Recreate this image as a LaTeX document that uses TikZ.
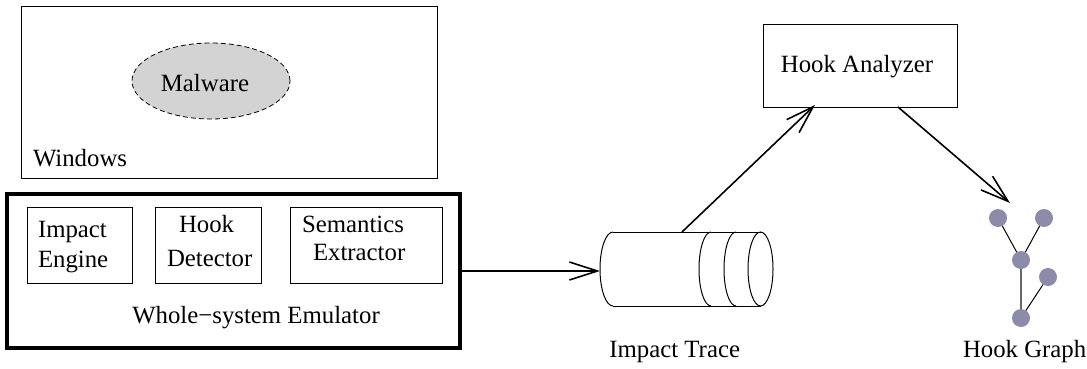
\documentclass[tikz,border=0pt]{standalone}
\usepackage{fontspec}
\setmainfont{Liberation Serif}
\usetikzlibrary{arrows.meta,shapes.geometric}
\definecolor{graphnode}{RGB}{140,140,170}
\definecolor{malfill}{RGB}{211,211,211}
\begin{document}
\begin{tikzpicture}[x=1pt,y=-1pt,
  box/.style={draw, line width=1pt, inner sep=0pt, outer sep=0pt},
  lbl/.style={font=\fontsize{24.8}{30}\selectfont, inner sep=0pt, outer sep=0pt},
  flow/.style={line width=1.6pt, -{Straight Barb[length=28pt,width=18pt,line width=1.6pt]}},
  gnode/.style={circle, fill=graphnode, minimum size=18pt, inner sep=0pt, outer sep=0pt},
  gedge/.style={line width=1pt},
  cyl/.style={line width=1pt}]
\useasboundingbox (0,0) rectangle (1087,369);

% Guest OS with the sample inside
\node[box, minimum width=416pt, minimum height=171pt] (win) at (229,92.5) {};
\node[ellipse, draw, dashed, dash pattern=on 5pt off 3pt, fill=malfill, line width=0.8pt,
      minimum width=158pt, minimum height=76pt, inner sep=0pt] (mal) at (211,81) {};
\node[lbl] (maltext) at (205,83) {Malware};
\node[lbl, anchor=base west] (wintext) at (33,166) {Windows};

% Emulator with its components
\node[draw, line width=3.4pt, inner sep=0pt, outer sep=0pt,
      minimum width=453pt, minimum height=154pt] (emu) at (233.5,271) {};
\node[box, minimum width=105pt, minimum height=76pt] (impact) at (79.5,245) {};
\node[box, minimum width=106pt, minimum height=76pt] (hookdet) at (208,245) {};
\node[box, minimum width=152pt, minimum height=76pt] (sem) at (366,245) {};
\node[lbl, anchor=base west] (t1a) at (38,237) {Impact};
\node[lbl, anchor=base west] (t1b) at (38,267) {Engine};
\node[lbl, anchor=base west] (t2a) at (179,232) {Hook};
\node[lbl, anchor=base west] (t2b) at (167,266) {Detector};
\node[lbl, anchor=base west] (t3a) at (302,232) {Semantics};
\node[lbl, anchor=base west] (t3b) at (313,260) {Extractor};
\node[lbl, anchor=base] (emutext) at (256,323) {Whole−system Emulator};

% Trace cylinder
\node[minimum width=173pt, minimum height=74pt, inner sep=0pt, outer sep=0pt] (trace) at (686.5,269) {};
\draw[cyl] (613,232) -- (761,232);
\draw[cyl] (613,306) -- (761,306);
\draw[cyl] (613,232) arc[start angle=90, end angle=270, x radius=13pt, y radius=37pt];
\draw[cyl] (711,232) arc[start angle=90, end angle=270, x radius=12pt, y radius=37pt];
\draw[cyl] (736,232) arc[start angle=90, end angle=270, x radius=12pt, y radius=37pt];
\draw[cyl] (760.5,269) ellipse[x radius=12.5pt, y radius=37pt];
\node[lbl, anchor=base east] (tracetext) at (740,357) {Impact Trace};

% Analyzer
\node[box, minimum width=194pt, minimum height=82pt] (ana) at (860,66) {};
\node[lbl, anchor=base] (anatext) at (857,73) {Hook Analyzer};

% Hook graph
\node[gnode] (g1) at (998,218) {};
\node[gnode] (g2) at (1044,218) {};
\node[gnode] (g3) at (1021,260) {};
\node[gnode] (g4) at (1048,277) {};
\node[gnode] (g5) at (1021,318) {};
\draw[gedge] (g1) -- (g3);
\draw[gedge] (g2) -- (g3);
\draw[gedge, line width=1.5pt, draw=black!60] (g3) -- (g5);
\draw[gedge] (g4) -- (g5);
\node[lbl, anchor=base west] (graphtext) at (963,357) {Hook Graph};

% Data flow
\coordinate (trace-out) at (682,232);
\coordinate (ana-in) at (815,105);
\coordinate (ana-out) at (898,107);
\coordinate (graph-in) at (1010,203);
\draw[flow] (emu.east) -- (emu.east -| trace.west);
\draw[flow] (trace-out) -- (ana-in);
\draw[flow] (ana-out) -- (graph-in);
\end{tikzpicture}
\end{document}
